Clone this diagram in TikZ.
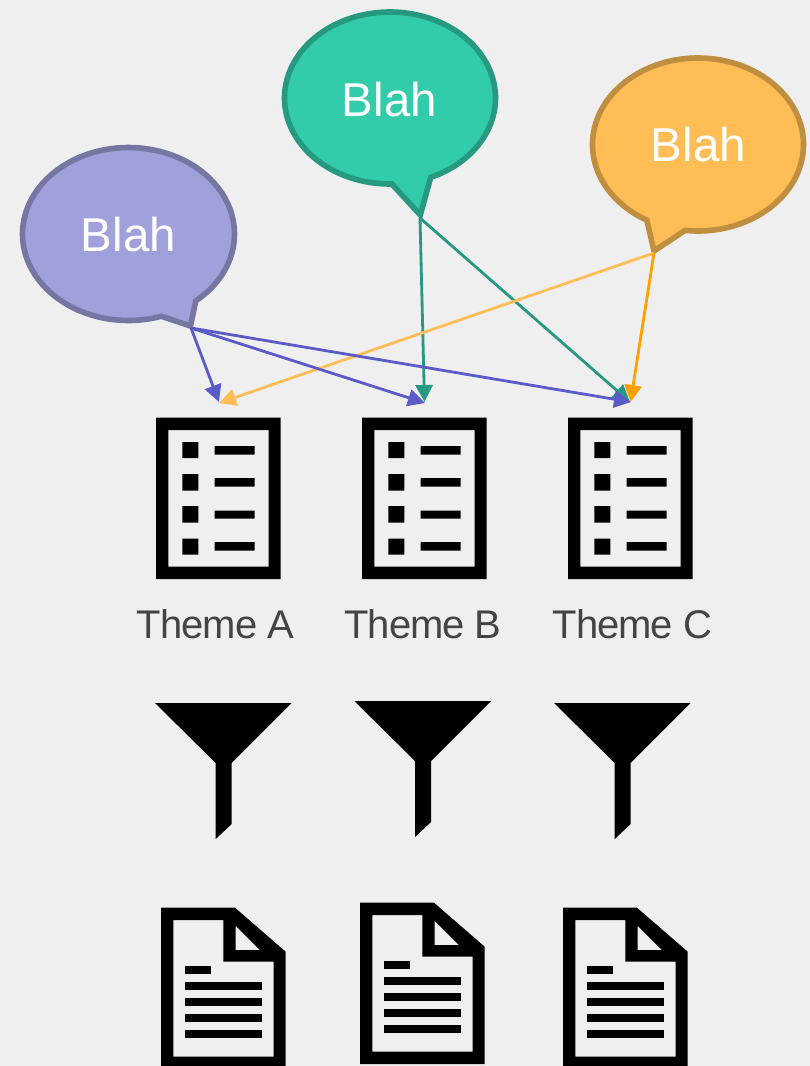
\documentclass[tikz,border=0pt]{standalone}
\usepackage{fontspec}
\setmainfont{Liberation Sans}
\newfontfamily\themefont[LetterSpace=-2.5]{Liberation Sans}
\usetikzlibrary{arrows.meta}
\definecolor{bgc}{HTML}{EFEFEF}
\definecolor{pfill}{HTML}{A0A0DB}
\definecolor{pline}{HTML}{7676A3}
\definecolor{gfill}{HTML}{33CCAA}
\definecolor{gline}{HTML}{269980}
\definecolor{ofill}{HTML}{FFBD55}
\definecolor{oline}{HTML}{BF8E40}
\definecolor{parrow}{HTML}{5B5BC7}
\definecolor{garrow}{HTML}{269980}
\definecolor{oarrow}{HTML}{FFBD55}
\definecolor{darrow}{HTML}{FFA000}
\definecolor{themetext}{HTML}{444444}
\tikzset{
  x=1pt,y=-1pt,
  bubblepath/.style={line width=5.6pt,line join=miter,miter limit=10},
  connector/.style={line width=2.8pt,-{Triangle[length=17pt,width=17pt]}},
  blahtext/.style={anchor=base,inner sep=0pt,text=white,font=\fontsize{47.5}{47.5}\selectfont},
  themetxt/.style={anchor=base,inner sep=0pt,text=themetext,font=\themefont\fontsize{40}{40}\selectfont},
  icon/.style={fill=black,draw=none,even odd rule},
}
% cx cy rx ry startangle endangle tip fill line
\newcommand{\speechbubble}[9]{%
  \draw[bubblepath,fill=#8,draw=#9]
    ({#1+#3*cos(#5)},{#2-#4*sin(#5)})
    arc[start angle=#5,end angle=#6,x radius=#3 pt,y radius=#4 pt]
    -- #7 -- cycle;}
\newcommand{\listicon}[1]{%
  \begin{scope}[shift={(#1,0)}]
    \fill[icon] (156,417.5) rectangle (280.7,579) (168.3,430) rectangle (268.7,566.7);
    \foreach \a/\b/\c/\d in {442/458/446/454.5,474/490.5/478/486.5,506/522.5/510.5/518.5,538.5/554.5/542/550.5}{
      \fill[icon] (182.3,\a) rectangle (198.3,\b) (214.5,\c) rectangle (254.5,\d);
    }
  \end{scope}}
\newcommand{\funnelicon}[2]{%
  \begin{scope}[shift={(#1,#2)}]
    \fill[icon] (155,703) -- (291.7,703) -- (231.7,763) -- (231.7,824) -- (215.7,839) -- (215.7,763) -- cycle;
  \end{scope}}
\newcommand{\docicon}[2]{%
  \begin{scope}[shift={(#1,#2)}]
    \fill[icon] (161,907.7) -- (235,907.7) -- (285.7,951.7) -- (285.7,1069) -- (161,1069) -- cycle
      (173.3,920) -- (223.3,920) -- (223.3,961.7) -- (273.7,961.7) -- (273.7,1056.7) -- (173.3,1056.7) -- cycle
      (235.5,925.7) -- (235.5,950) -- (260,950) -- cycle;
    \fill[icon] (185,966.3) rectangle (211.3,974.3);
    \foreach \a in {982.3,998.3,1014.3,1030.3}{
      \fill[icon] (185,\a) rectangle (261.7,\a+8);
    }
  \end{scope}}
\begin{document}
\begin{tikzpicture}
\useasboundingbox (0,0) rectangle (810,1066);
\clip (0,0) rectangle (810,1066);
\fill[bgc] (0,0) rectangle (810,1066);

\speechbubble{128.5}{234}{106}{86.5}{-50.6}{288}{(190.5,326)}{pfill}{pline}
\speechbubble{390}{98}{105.5}{86}{-67.3}{271}{(420.3,215)}{gfill}{gline}
\speechbubble{698}{144.5}{105.5}{86.5}{-97}{241}{(654,251)}{ofill}{oline}

\node[blahtext] (blahp) at (128.5,251.7) {Blah};
\node[blahtext] (blahg) at (389.5,116) {Blah};
\node[blahtext] (blaho) at (698.5,161) {Blah};

\coordinate (tipp) at (191,328);
\coordinate (tipg) at (420,218);
\coordinate (tipo) at (654,253);
\coordinate (ta) at (219,402);
\coordinate (tao) at (219,403);
\coordinate (tbp) at (425,403);
\coordinate (tbg) at (424.5,402);
\coordinate (tcp) at (631,402);
\coordinate (tcg) at (630,402);
\coordinate (tco) at (630.5,402);

\draw[connector,garrow] (tipg) -- (tbg);
\draw[connector,garrow] (tipg) -- (tcg);
\draw[connector,oarrow] (tipo) -- (tao);
\draw[connector,darrow] (tipo) -- (tco);
\draw[connector,parrow] (tipp) -- (ta);
\draw[connector,parrow] (tipp) -- (tbp);
\draw[connector,parrow] (tipp) -- (tcp);

\listicon{0}
\listicon{206}
\listicon{412}

\node[themetxt] (themea) at (215.5,638) {Theme A};
\node[themetxt] (themeb) at (423,638) {Theme B};
\node[themetxt] (themec) at (632.5,638) {Theme C};

\funnelicon{0}{0}
\funnelicon{199.3}{-2}
\funnelicon{399}{0}

\docicon{0}{0}
\docicon{199}{-5}
\docicon{402}{0}
\end{tikzpicture}
\end{document}
